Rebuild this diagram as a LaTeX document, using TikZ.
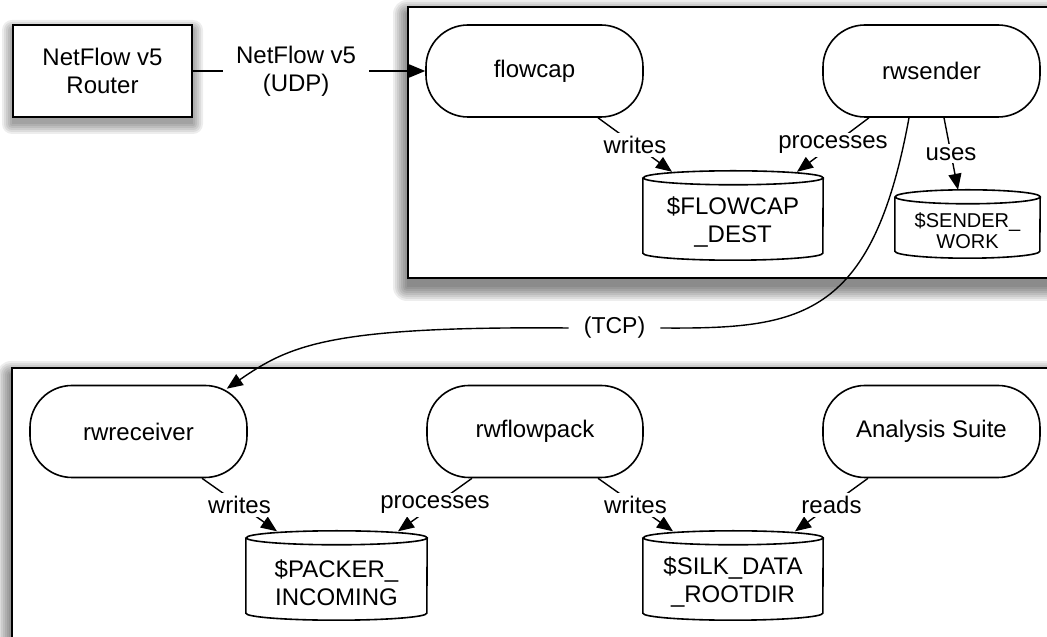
\documentclass[tikz,border=0pt]{standalone}
\usepackage{fontspec}
\setmainfont{Liberation Sans}
\usetikzlibrary{calc,arrows.meta}
\pgfdeclarelayer{background}
\pgfdeclarelayer{canvas}
\pgfsetlayers{canvas,background,main}

\newcommand\dbdraw[2]{%
  \draw[dbline] ([yshift=7pt]#1.north west) -- ([yshift=7pt]#1.south west)
    arc[start angle=180,end angle=360,x radius=#2pt,y radius=7pt]
    -- ([yshift=7pt]#1.north east)
    arc[start angle=0,end angle=180,x radius=#2pt,y radius=7pt]
    arc[start angle=180,end angle=360,x radius=#2pt,y radius=7pt];}

\newcommand\shadowof[3]{%
  \begin{pgfonlayer}{background}
  \foreach \e in {0,2,...,#3} {
    \fill[black,opacity=0.07,rounded corners=\e pt]
      ($(#1.south west)+(-\e,-#2-\e)$) rectangle ($(#1.north east)+(\e,-#2+\e)$);}
  \end{pgfonlayer}}

\tikzset{
  big/.style={font=\fontsize{24}{28}\selectfont},
  proc/.style={draw, line width=1.6pt, fill=white, rounded corners=42pt,
    minimum width=217pt, minimum height=92pt, inner sep=0pt, big},
  dbnode/.style={align=center, inner sep=0pt, big},
  container/.style={draw, line width=2pt, fill=white, inner sep=0pt},
  lab/.style={fill=white, inner sep=3pt, big},
  conn/.style={line width=1.4pt, -{Triangle[length=16pt,width=13pt]}},
  plain/.style={line width=1.4pt},
  dbline/.style={line width=1.6pt},
}

\begin{document}
\begin{tikzpicture}[x=1pt,y=1pt]
\useasboundingbox (0,0) rectangle (1047,637);
\clip (0,0) rectangle (1047,637);
\begin{pgfonlayer}{canvas}
\fill[white] (0,0) rectangle (1047,637);
\end{pgfonlayer}

% containers
\node[container, minimum width=662pt, minimum height=271pt] (topbox) at (739,494.5) {};
\node[container, minimum width=1058pt, minimum height=312pt] (botbox) at (541,113) {};
\shadowof{topbox}{8}{14}
\shadowof{botbox}{8}{14}

% router
\node[draw, line width=2pt, fill=white, minimum width=179pt, minimum height=92pt,
      align=center, inner sep=0pt, big] (router) at (102.5,566) {NetFlow v5\\Router};
\shadowof{router}{6}{10}

% top processes
\node[proc] (flowcap) at (534.5,566) {flowcap};
\node[proc] (rwsender) at (931.5,566) {rwsender};

% top stores
\node[dbnode, minimum width=180pt, minimum height=75pt] (fd) at (733,414.5) {\$FLOWCAP\\\_DEST};
\dbdraw{fd}{90}
\node[dbnode, minimum width=145pt, minimum height=54pt, font=\fontsize{20}{21}\selectfont] (sw) at (967.5,406) {\$SENDER\_\\WORK};
\dbdraw{sw}{72.5}

% bottom processes
\node[proc] (rwreceiver) at (138.5,205.5) {rwreceiver};
\node[proc, minimum width=216pt] (rwflowpack) at (535,205.5) {rwflowpack};
\node[proc] (analysis) at (931.5,205.5) {Analysis Suite};

% bottom stores
\node[dbnode, minimum width=181pt, minimum height=75pt] (pk) at (336.5,54.5) {\$PACKER\_\\INCOMING};
\dbdraw{pk}{90.5}
\node[dbnode, minimum width=180pt, minimum height=75pt] (silk) at (733,54.5) {\$SILK\_DATA\\\_ROOTDIR};
\dbdraw{silk}{90}

% connectors
\draw[conn] (router.east) -- node[lab, pos=0.444, align=center, inner xsep=13pt] (udp) {NetFlow v5\\(UDP)} (flowcap.west);

\draw[conn] ($(flowcap.south)+(63.5,0)$) -- node[lab] (l1) {writes} ($(fd.north)+(-61,13)$);
\draw[conn] ($(rwsender.south)+(-62.5,0)$) -- node[lab] (l2) {processes} ($(fd.north)+(64,13)$);
\draw[conn] ($(rwsender.south)+(12.5,0)$) -- node[lab] (l3) {uses} ($(sw.north)+(-9.5,14)$);

\draw[conn] ($(rwreceiver.south)+(63.5,0)$) -- node[lab] (l4) {writes} ($(pk.north)+(-59.5,13.5)$);
\draw[conn] ($(rwflowpack.south)+(-63,0)$) -- node[lab] (l5) {processes} ($(pk.north)+(61.5,13.5)$);
\draw[conn] ($(rwflowpack.south)+(63,0)$) -- node[lab] (l6) {writes} ($(silk.north)+(-60,13.5)$);
\draw[conn] ($(analysis.south)+(-63.5,0)$) -- node[lab] (l7) {reads} ($(silk.north)+(62,13.5)$);

% TCP link
\node[inner xsep=15pt, inner ysep=3pt, font=\fontsize{23}{27}\selectfont] (tcp) at (614.5,309) {(TCP)};
\draw[plain] ($(rwsender.south)+(-22.5,0)$) .. controls (872,317) and (800,308) .. (tcp.east);
\draw[conn] (tcp.west) .. controls (330,311) and (290,292) .. ($(rwreceiver.north east)+(-21,-4)$);
\end{tikzpicture}
\end{document}
